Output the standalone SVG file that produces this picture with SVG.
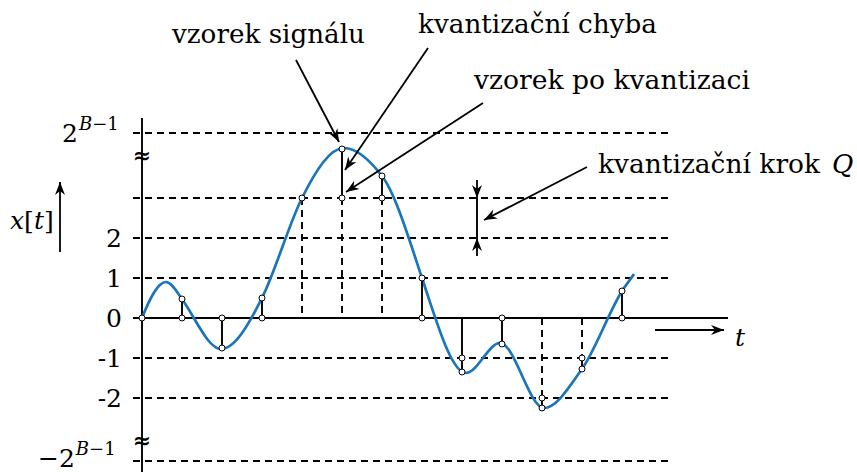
<svg xmlns="http://www.w3.org/2000/svg" width="857" height="472" viewBox="0 0 857 472">
<defs>
<marker id="ah" markerUnits="userSpaceOnUse" viewBox="-14 -6 15 12" markerWidth="15" markerHeight="12" refX="0" refY="0" orient="auto">
<path d="M0,0 L-13,-5 L-9,0 L-13,5 Z" fill="#000"/>
</marker>
<style>
text{font-family:'DejaVu Serif','Liberation Serif',serif;fill:#000}
.i{font-style:italic}
.sup{font-size:18px}
.dash{stroke:#000;stroke-width:1.9;stroke-dasharray:7 5;fill:none}
.solid{stroke:#000;stroke-width:1.9;fill:none}
.arr{stroke:#000;stroke-width:1.8;fill:none;marker-end:url(#ah)}
.pt{fill:#fff;stroke:#000;stroke-width:1}
.sig{stroke:#1a75bb;stroke-width:2.7;fill:none}
</style>
</defs>
<rect width="857" height="472" fill="#fff"/>

<g id="grid">
<path class="dash" d="M133,133H672 M133,198H672 M133,238H672 M133,278H672 M133,358H672 M133,398H672 M133,461H672"/>
<path class="solid" d="M133,318H728"/>
<path class="dash" d="M302,198V318 M342,198V318 M382,198V318 M542,318V398 M582,318V358"/>
</g>

<g id="axis">
<path class="solid" d="M142,118V472"/>
<text x="142" y="163" text-anchor="middle" font-size="22" font-weight="bold">≈</text>
<text x="142" y="448" text-anchor="middle" font-size="22" font-weight="bold">≈</text>
</g>

<g id="axis-labels" font-size="25">
<text x="62" y="142">2<tspan class="i sup" dx="1" dy="-12">B</tspan><tspan class="sup">−1</tspan></text>
<text x="122" y="247" text-anchor="end">2</text>
<text x="122" y="287" text-anchor="end">1</text>
<text x="122" y="327" text-anchor="end">0</text>
<text x="122" y="367" text-anchor="end">-1</text>
<text x="122" y="407" text-anchor="end">-2</text>
<text x="38" y="467">−2<tspan class="i sup" dx="1" dy="-12">B</tspan><tspan class="sup">−1</tspan></text>
<text x="10" y="229"><tspan class="i">x</tspan>[<tspan class="i">t</tspan>]</text>
<text class="i" x="735" y="346">t</text>
</g>

<g id="signal">
<path class="sig" d="M142,318 C150,298 158,282 166,282 C171.3,282 176.7,291.5 182,299 C195,317.2 208,349 221,349 C234.7,349 248.3,325.3 262,298 C275.3,271.3 288.7,224.7 302,198 C316,170 330,148 344,148 C356.7,148 369.3,159.5 382,176 C395.3,193.3 408.7,238 422,278 C436.7,322 451.3,373 466,373 C477.3,373 488.7,343 500,343 C514.7,343 529.3,408 544,408 C556.7,408 569.3,386.7 582,369 C595.3,350.3 608.7,312.3 622,291 C626,284.6 630,280 634,274"/>
</g>

<g id="errors">
<path class="solid" d="M182,299V318 M222,318V348 M262,298V318 M342,149V198 M382,176V198 M422,278V318 M462,318V372 M502,318V344 M542,398V408 M582,358V369 M622,291V318"/>
</g>

<g id="samples">
<circle class="pt" cx="142" cy="318" r="3"/>
<circle class="pt" cx="182" cy="299" r="3"/><circle class="pt" cx="182" cy="318" r="3"/>
<circle class="pt" cx="222" cy="318" r="3"/><circle class="pt" cx="222" cy="348" r="3"/>
<circle class="pt" cx="262" cy="298" r="3"/><circle class="pt" cx="262" cy="318" r="3"/>
<circle class="pt" cx="302" cy="198" r="3"/>
<circle class="pt" cx="342" cy="149" r="3"/><circle class="pt" cx="342" cy="198" r="3"/>
<circle class="pt" cx="382" cy="176" r="3"/><circle class="pt" cx="382" cy="198" r="3"/>
<circle class="pt" cx="422" cy="278" r="3"/><circle class="pt" cx="422" cy="318" r="3"/>
<circle class="pt" cx="462" cy="358" r="3"/><circle class="pt" cx="462" cy="372" r="3"/>
<circle class="pt" cx="502" cy="318" r="3"/><circle class="pt" cx="502" cy="344" r="3"/>
<circle class="pt" cx="542" cy="398" r="3"/><circle class="pt" cx="542" cy="408" r="3"/>
<circle class="pt" cx="582" cy="358" r="3"/><circle class="pt" cx="582" cy="369" r="3"/>
<circle class="pt" cx="622" cy="291" r="3"/><circle class="pt" cx="622" cy="318" r="3"/>
</g>

<g id="step-marker">
<path class="solid" d="M477,198V238"/>
<path class="arr" d="M477,180V198"/>
<path class="arr" d="M477,256V238"/>
</g>

<g id="connectors">
<path class="arr" d="M296,60L339,142"/>
<path class="arr" d="M428,48L345,170"/>
<path class="arr" d="M483,103L346,192"/>
<path class="arr" d="M587,167L484,220"/>
<path class="arr" d="M60,252V182"/>
<path class="arr" d="M655,330H724"/>
</g>

<g id="labels" font-size="26">
<text x="172" y="43" textLength="193" lengthAdjust="spacingAndGlyphs">vzorek signálu</text>
<text x="418" y="33" textLength="239" lengthAdjust="spacingAndGlyphs">kvantizační chyba</text>
<text x="474" y="89" textLength="276" lengthAdjust="spacingAndGlyphs">vzorek po kvantizaci</text>
<text x="598" y="173"><tspan textLength="222" lengthAdjust="spacingAndGlyphs">kvantizační krok</tspan><tspan class="i" x="832">Q</tspan></text>
</g>
</svg>
